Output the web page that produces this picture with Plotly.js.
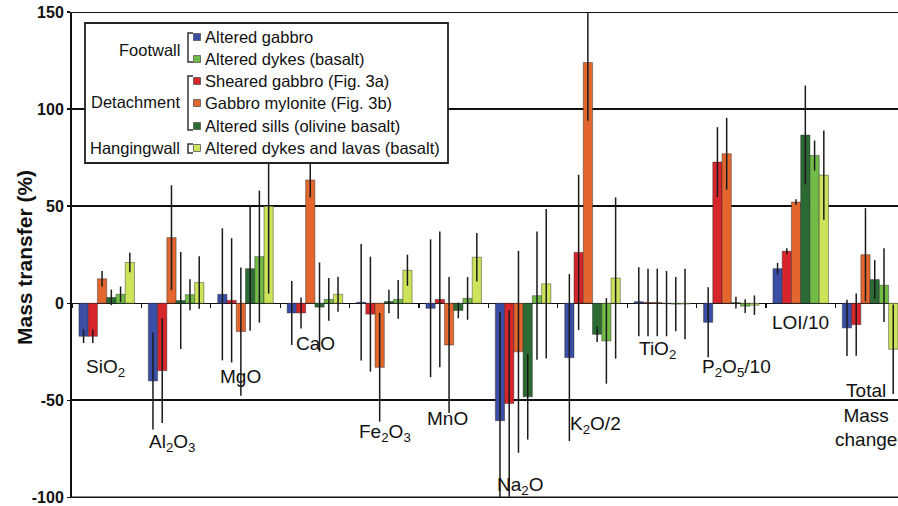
<!DOCTYPE html>
<html>
<head>
<meta charset="utf-8">
<script src="https://cdn.plot.ly/plotly-3.0.1.min.js"></script>
<style>
html,body{margin:0;padding:0;background:#fff;}
#chart{width:898px;height:506px;}
</style>
</head>
<body>
<div id="chart"></div>
<script>
// ---------- DATA ----------
const categories = ['SiO2','Al2O3','MgO','CaO','Fe2O3','MnO','Na2O','K2O/2','TiO2','P2O5/10','LOI/10','Total mass change'];

const seriesNames = ['Altered gabbro','Sheared gabbro (Fig. 3a)','Gabbro mylonite (Fig. 3b)','Altered sills (olivine basalt)','Altered dykes (basalt)','Altered dykes and lavas (basalt)'];

const gabbro      = [-17, -40,   4.6, -5,   0.5, -2.6, -60.5, -28,   0.8, -9.8, 17.8, -12.7];
const gabbroErr   = [3.5, 25,   34,  16.5, 30,   35.5, 56,    43,   17.8, 18,   3,    14.5];

const sheared     = [-17, -34.7, 1.5, -5,  -5.6,  2,   -51.6,  26.2, 0.4, 72.7, 26.8, -11];
const shearedErr  = [3.5, 27,   32,   8,   29.6, 35,   48,    40,   17.4, 18,   1.5,  16];

const mylonite    = [12.6, 33.8, -14.6, 63.5, -33, -21.5, -25, 124,   0.4, 77,   52.1, 25];
const myloniteErr = [4,    27,   33,    9,    28,   35,   52,   30,   17.4, 18.5, 1.5,  24];

const sills       = [3,   1.4, 17.8, -2,  0.9, -3.7, -48.2, -16,  -0.2,  0.3, 86.6, 12.2];
const sillsErr    = [4,   25,  32,   23,  6,    4,    22,    4,    16.8,  3,   25.5, 10];

const dykesFw     = [4.6, 4.4, 24,   2,   2,   2.5,   3.9, -19.4, -0.45, -1.5, 76.1, 9.3];
const dykesFwErr  = [4,   8,   34,   11,  10,  11,    33,   22,    14,    3.5,  7.7, 19];

const dykesHw     = [21,  10.7, 50,  4.6, 17,  23.7, 10,   13,   -0.4, -1,   66,  -23.7];
const dykesHwErr  = [5,   13.5, 45,  9,   8,   12.5, 38.5, 41.5, 18.2,  5,   23,   23];

const yTickVals = [-100, -50, 0, 50, 100, 150];
const yTickText = ['-100', '-50', '0', '50', '100', '150'];

const catLabels = ['SiO<sub>2</sub>','Al<sub>2</sub>O<sub>3</sub>','MgO','CaO','Fe<sub>2</sub>O<sub>3</sub>','MnO','Na<sub>2</sub>O','K<sub>2</sub>O/2','TiO<sub>2</sub>','P<sub>2</sub>O<sub>5</sub>/10','LOI/10','Total<br>Mass<br>change'];

const legendGroups = [
  {label:'Footwall', items:[0,4]},
  {label:'Detachment', items:[1,2,3]},
  {label:'Hangingwall', items:[5]}
];
const legendOrder = [0,4,1,2,3,5];

// ---------- STYLE ----------
const colors = ['#3a4ea6','#d6262b','#e2662e','#2c6a34','#72bb46','#cde35a'];
const values = [gabbro, sheared, mylonite, sills, dykesFw, dykesHw];
const errs   = [gabbroErr, shearedErr, myloniteErr, sillsErr, dykesFwErr, dykesHwErr];

const W = 898, H = 506;
const M = {l:72, r:0, t:12, b:8};
const PW = W - M.l - M.r, PH = H - M.t - M.b;
const Y0 = -100.3, Y1 = 150;
const px = x => (x - M.l) / PW;
const py = y => 1 - (y - M.t) / PH;

const traces = values.map((v, i) => ({
  type: 'bar',
  name: seriesNames[i],
  x: categories,
  y: v,
  marker: {color: colors[i], line: {color: 'rgba(40,40,40,0.55)', width: 0.8}},
  error_y: {type: 'data', array: errs[i], visible: true, color: '#1a1a1a', thickness: 1.5, width: 0},
  showlegend: false
}));

const shapes = [];
const annotations = [];

// frame top & bottom
shapes.push({type:'line', xref:'paper', yref:'y', x0:0, x1:1, y0:150, y1:150, line:{color:'#111', width:2}});
shapes.push({type:'line', xref:'paper', yref:'y', x0:0, x1:1, y0:-100, y1:-100, line:{color:'#111', width:2}});

// legend box
shapes.push({type:'rect', xref:'paper', yref:'paper', layer:'above',
  x0:px(85), x1:px(448), y0:py(163), y1:py(23),
  fillcolor:'#fff', line:{color:'#222', width:1.8}});

const rowY = [37, 59, 81, 103, 126, 148];
legendOrder.forEach((s, r) => {
  const yc = rowY[r];
  shapes.push({type:'rect', xref:'paper', yref:'paper', layer:'above',
    x0:px(193.5), x1:px(200.5), y0:py(yc+3.5), y1:py(yc-3.5),
    fillcolor:colors[s], line:{color:'#555', width:0.8}});
  annotations.push({xref:'paper', yref:'paper', x:px(203), y:py(yc), text:seriesNames[s],
    showarrow:false, xanchor:'left', yanchor:'middle', font:{family:'Arial', size:16.5, color:'#111'}});
});

const brackets = [
  {y0:33, y1:62, yl:50},
  {y0:76, y1:130, yl:102},
  {y0:144, y1:153, yl:148}
];
legendGroups.forEach((g, i) => {
  const b = brackets[i];
  shapes.push({type:'path', xref:'paper', yref:'paper', layer:'above',
    path:`M ${px(193)} ${py(b.y0)} L ${px(188)} ${py(b.y0)} L ${px(188)} ${py(b.y1)} L ${px(193)} ${py(b.y1)}`,
    line:{color:'#333', width:1.5}});
  annotations.push({xref:'paper', yref:'paper', x:px(182), y:py(b.yl), text:g.label,
    showarrow:false, xanchor:'right', yanchor:'middle', font:{family:'Arial', size:16.5, color:'#111'}});
});

// category labels
const labelPos = [[105,368],[172,443],[240,376],[315,343],[385,433],[447,418],[520,486],[595,425],[657,350],[736,368],[800,322],[866,415]];
catLabels.forEach((t, i) => {
  annotations.push({xref:'paper', yref:'paper', x:px(labelPos[i][0]), y:py(labelPos[i][1]), text:t,
    showarrow:false, xanchor:'center', yanchor:'middle', align:'center',
    font:{family:'Arial', size:19, color:'#111'}});
});

// y title
annotations.push({xref:'paper', yref:'paper', x:px(24), y:py(258), text:'<b>Mass transfer (%)</b>',
  showarrow:false, textangle:-90, xanchor:'center', yanchor:'middle',
  font:{family:'Arial', size:21, color:'#111'}});

const layout = {
  width: W, height: H,
  margin: M,
  paper_bgcolor: '#fff', plot_bgcolor: '#fff',
  barmode: 'group', bargap: 0.2, bargroupgap: 0,
  showlegend: false,
  xaxis: {
    type: 'category', range: [-0.5, -0.5 + PW / 69.4],
    anchor: 'free', position: (0 - Y0) / (Y1 - Y0),
    showgrid: false, zeroline: false, showline: false,
    ticks: 'outside', tickson: 'boundaries', ticklen: 4, tickwidth: 1.2, tickcolor: '#111',
    showticklabels: false
  },
  yaxis: {
    range: [Y0, Y1],
    tickvals: yTickVals, ticktext: yTickText,
    showgrid: true, gridcolor: '#111', gridwidth: 1.8,
    zeroline: true, zerolinecolor: '#111', zerolinewidth: 1.2,
    showline: true, linecolor: '#111', linewidth: 2,
    ticks: 'outside', ticklen: 3, tickcolor: '#111', tickwidth: 1.5,
    ticklabeloverflow: 'allow',
    tickfont: {family: 'Arial', size: 16, color: '#111', weight: 'bold'}
  },
  shapes: shapes,
  annotations: annotations
};

Plotly.newPlot('chart', traces, layout, {displayModeBar: false, staticPlot: true});
</script>
</body>
</html>
